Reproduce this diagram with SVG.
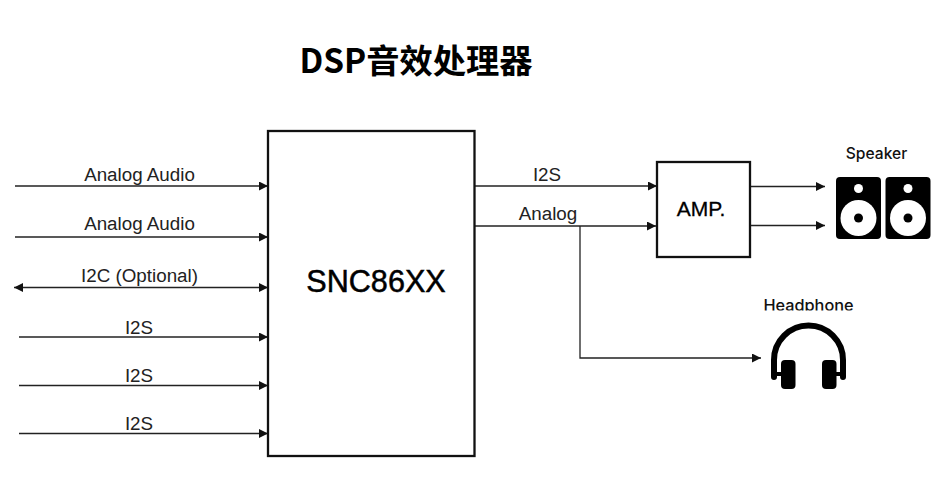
<svg xmlns="http://www.w3.org/2000/svg" width="949" height="482" viewBox="0 0 949 482">
<style>
.l{font-family:"Liberation Sans",Arial,sans-serif;font-size:18.8px;fill:#222;text-anchor:middle}
.c{stroke:#222;stroke-width:1.3;fill:none}
.b{fill:#fff;stroke:#111;stroke-width:2.300}
.k{fill:#000}
.w{fill:#fff}
</style>
<defs>
<marker id="a" markerUnits="userSpaceOnUse" markerWidth="9" markerHeight="9" refX="9" refY="4.500" orient="auto-start-reverse"><path d="M0 0L9 4.500L0 9Z" fill="#111"/></marker>
</defs>
<rect width="949" height="482" fill="#fff"/>
<text x="416" y="73" font-family="'Noto Sans CJK SC','Noto Sans',sans-serif" font-size="33.300" font-weight="700" text-anchor="middle" fill="#000">DSP音效处理器</text>
<g id="connectors">
<path class="c" marker-end="url(#a)" d="M15 186H268"/>
<path class="c" marker-end="url(#a)" d="M15 237H268"/>
<path class="c" marker-start="url(#a)" marker-end="url(#a)" d="M14 287.500H268"/>
<path class="c" marker-end="url(#a)" d="M19 337H268"/>
<path class="c" marker-end="url(#a)" d="M19 385.500H268"/>
<path class="c" marker-end="url(#a)" d="M19 433.500H268"/>
<path class="c" marker-end="url(#a)" d="M475 186H657"/>
<path class="c" marker-end="url(#a)" d="M475 226H656"/>
<path class="c" marker-end="url(#a)" d="M580 226V358H761"/>
<path class="c" marker-end="url(#a)" d="M751 186.500H825"/>
<path class="c" marker-end="url(#a)" d="M751 225.500H825"/>
</g>
<g id="labels">
<text class="l" x="139.500" y="180.500">Analog Audio</text>
<text class="l" x="139.500" y="229.500">Analog Audio</text>
<text class="l" x="139.500" y="281.500">I2C (Optional)</text>
<text class="l" x="139" y="333.500">I2S</text>
<text class="l" x="139" y="381.500">I2S</text>
<text class="l" x="139" y="429.500">I2S</text>
<text class="l" x="547" y="180.500">I2S</text>
<text class="l" x="548" y="219.500">Analog</text>
</g>
<g id="snc">
<rect class="b" x="268" y="131" width="206.500" height="325"/>
<text x="376" y="292" font-family="'Liberation Sans',Arial,sans-serif" font-size="30.600" text-anchor="middle" fill="#000" stroke="#000" stroke-width="0.500">SNC86XX</text>
</g>
<g id="amp">
<rect class="b" x="657" y="162" width="93" height="95"/>
<text x="701" y="216" font-family="'Liberation Sans',Arial,sans-serif" font-size="21" text-anchor="middle" fill="#000" stroke="#000" stroke-width="0.300">AMP.</text>
</g>
<g id="speaker">
<text x="876.500" y="159" font-family="Inter,'Noto Sans',sans-serif" font-size="15.600" font-weight="500" text-anchor="middle" fill="#111">Speaker</text>
<rect class="k" x="836" y="177" width="45" height="62" rx="4"/>
<circle class="w" cx="858.500" cy="188.500" r="4.500"/>
<circle class="w" cx="858.500" cy="218" r="18"/>
<circle class="k" cx="858.500" cy="218" r="4.500"/>
<rect class="k" x="885.500" y="177" width="45" height="62" rx="4"/>
<circle class="w" cx="908" cy="188.500" r="4.500"/>
<circle class="w" cx="908" cy="218" r="18"/>
<circle class="k" cx="908" cy="218" r="4.500"/>
</g>
<g id="headphone">
<text x="808.500" y="311" font-family="Inter,'Noto Sans',sans-serif" font-size="16.300" font-weight="500" text-anchor="middle" fill="#111">Headphone</text>
<rect x="755" y="310.500" width="106" height="11" fill="#fff"/>
<path d="M774 377V360A34.500 34.500 0 0 1 843 360V377" fill="none" stroke="#000" stroke-width="6" stroke-linecap="round"/>
<path d="M774 374H782M843 374H835" stroke="#000" stroke-width="4"/>
<rect class="k" x="781" y="360" width="14.500" height="29" rx="4"/>
<rect class="k" x="822" y="360" width="14.500" height="29" rx="4"/>
</g>
</svg>
